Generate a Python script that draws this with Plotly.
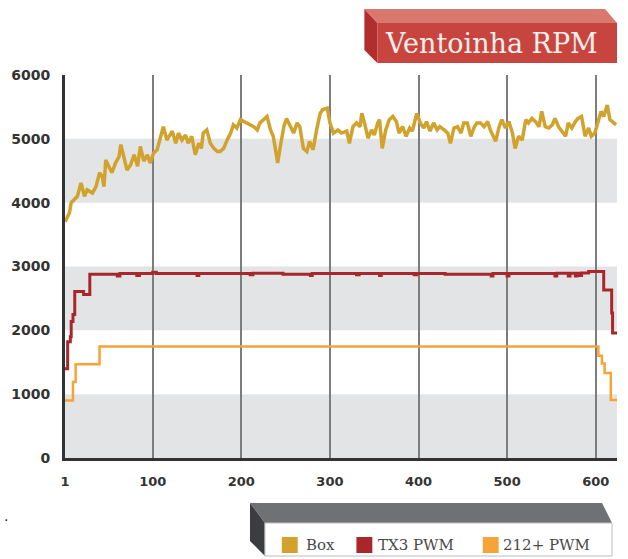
import plotly.graph_objects as go

# ---- data -------------------------------------------------------------
box_x = [1, 6, 8, 11, 15, 19, 23, 26, 32, 36, 40, 43, 45, 47, 51, 54, 58, 62, 64, 68,
         71, 75, 79, 83, 86, 90, 94, 97, 101, 105, 109, 112, 116, 122, 126, 129, 133, 137, 140, 144,
         148, 152, 155,
         157, 161, 165, 169, 173, 176, 180, 184, 188, 191, 195, 199, 203, 208, 214, 218, 221, 225, 229, 233,
         236, 238, 241, 244, 248, 251, 255, 259, 263, 266, 270, 274, 277, 281, 285, 289, 292, 297, 300, 304,
         309,
         313, 319, 322, 326, 330, 334, 336, 339, 343, 347, 350, 354, 356, 359, 363, 367, 371, 375, 378, 382,
         386, 390, 393, 398, 402, 406, 409, 413, 417, 421, 424, 429, 433, 436, 440, 444, 448, 451, 455, 459,
         463, 466,
         470, 474, 478, 481, 487, 491, 494, 498, 502, 506, 509, 513, 517, 521, 524, 528, 532, 536, 539, 543,
         547, 551, 554, 558, 562, 566, 569, 573, 577, 580, 584, 588, 592, 595, 599, 603, 606, 609, 613, 616,
         620, 623]
box_rpm = [3700, 3840, 4000, 4040, 4100, 4310, 4100, 4200, 4150, 4250, 4470, 4410, 4250, 4670, 4570, 4470, 4620, 4720, 4910, 4670,
           4510, 4590, 4750, 4570, 4880, 4650, 4750, 4620, 4780, 4830, 5040, 5190, 4980, 5120, 4930, 5090, 4980, 5060, 4930, 5040,
           4750, 4930, 4850,
           5090, 5140, 4930, 4850, 4800, 4800, 4850, 4980, 5090, 5220, 5170, 5300, 5270, 5220, 5190, 5140, 5250, 5300, 5350, 5140,
           5040, 4880, 4620, 4880, 5190, 5320, 5190, 5090, 5250, 5190, 4850, 4800, 4960, 4830, 5140, 5400, 5460, 5480, 5250, 5090,
           5140,
           5090, 5120, 4930, 5190, 5250, 5190, 5400, 5250, 5010, 5140, 5060, 5250, 5300, 4850, 5140, 5300, 5350, 5270, 5090, 5190,
           5040, 5170, 5120, 5400, 5250, 5170, 5270, 5120, 5250, 5140, 5190, 5140, 5090, 4930, 5170, 5190, 5090, 5250, 5250, 5040,
           5190, 5250,
           5250, 5190, 5270, 5140, 4960, 5190, 5300, 5170, 5270, 5090, 4850, 5040, 4980, 5300, 5250, 5320, 5270, 5190, 5430, 5190,
           5170, 5220, 5320, 5190, 5120, 5040, 5250, 5170, 5270, 5320, 5350, 5040, 5170, 5040, 5090, 5270, 5430, 5350, 5530, 5300,
           5250, 5220]

tx3_x = [1, 4, 7, 8, 10, 12, 22, 29, 60, 63, 82, 85, 100, 104, 150, 152, 210, 213, 247, 278,
         280, 330, 333, 356, 358, 395, 398, 430, 482, 484, 500, 502, 554, 556, 569, 571, 577, 579, 582, 584,
         592, 609, 618, 619, 624]
tx3_rpm = [1400, 1820, 1900, 2140, 2250, 2610, 2560, 2880, 2850, 2890, 2860, 2890, 2910, 2890, 2860, 2890, 2870, 2895, 2880, 2860,
           2890, 2870, 2890, 2860, 2890, 2870, 2890, 2880, 2850, 2890, 2850, 2890, 2850, 2895, 2850, 2895, 2850, 2895, 2860, 2900,
           2920, 2630, 2270, 1960, 1960]

pwm212_x = [1, 10, 13, 40, 603, 607, 610, 617, 624]
pwm212_rpm = [900, 1190, 1470, 1745, 1600, 1480, 1330, 910, 910]

x_ticks = [1, 100, 200, 300, 400, 500, 600]
y_ticks = [0, 1000, 2000, 3000, 4000, 5000, 6000]
band_ranges = [(0, 1000), (2000, 3000), (4000, 5000)]

series_names = ["Box", "TX3 PWM", "212+ PWM"]
series_colors = ["#d1a22c", "#a9272b", "#f6a337"]

# ---- page geometry ------------------------------------------------------
W, H = 628, 559
ML, MR, MT, MB = 62, 11, 75, 101
PW, PH = W - ML - MR, H - MT - MB


def fx(x):
    return (x - ML) / PW


def fy(y):
    return (H - MB - y) / PH


def poly(points):
    return "M " + " L ".join(f"{fx(x):.5f},{fy(y):.5f}" for x, y in points) + " Z"


fig = go.Figure()

fig.add_trace(go.Scatter(x=box_x, y=box_rpm, mode="lines", name=series_names[0],
                         line=dict(color=series_colors[0], width=3.5)))
fig.add_trace(go.Scatter(x=tx3_x, y=tx3_rpm, mode="lines", name=series_names[1],
                         line=dict(color=series_colors[1], width=3, shape="hv")))
fig.add_trace(go.Scatter(x=pwm212_x, y=pwm212_rpm, mode="lines", name=series_names[2],
                         line=dict(color=series_colors[2], width=2.5, shape="hv")))

shapes = []
# alternating grey bands
for lo, hi in band_ranges:
    shapes.append(dict(type="rect", xref="paper", yref="y", x0=0, x1=1, y0=lo, y1=hi,
                       fillcolor="#e3e4e6", line_width=0, layer="below"))

# title block (3D red slab)
shapes.append(dict(type="path", xref="paper", yref="paper",
                   path=poly([(363, 9), (605, 9), (617, 23), (376, 23)]),
                   fillcolor="#d8786e", line_width=0))
shapes.append(dict(type="path", xref="paper", yref="paper",
                   path=poly([(363, 9), (376, 23), (376, 63), (363, 50)]),
                   fillcolor="#b22d2d", line_width=0))
shapes.append(dict(type="path", xref="paper", yref="paper",
                   path=poly([(376, 23), (617, 23), (617, 63), (376, 63)]),
                   fillcolor="#c8453f", line_width=0))

# legend block (3D grey slab)
shapes.append(dict(type="path", xref="paper", yref="paper",
                   path=poly([(248, 503), (602, 503), (612, 523), (263, 523)]),
                   fillcolor="#707174", line_width=0))
shapes.append(dict(type="path", xref="paper", yref="paper",
                   path=poly([(248, 503), (263, 523), (263, 556), (248, 541)]),
                   fillcolor="#3c3d40", line_width=0))
shapes.append(dict(type="path", xref="paper", yref="paper",
                   path=poly([(263, 523), (612, 523), (612, 556), (263, 556)]),
                   fillcolor="#ffffff", line=dict(color="#bdbec0", width=1)))

legend_items = [(280, 302), (355, 375), (482, 500)]
annotations = []
for (sq_x, tx), name, color in zip(legend_items, series_names, series_colors):
    shapes.append(dict(type="rect", xref="paper", yref="paper",
                       x0=fx(sq_x), x1=fx(sq_x + 16), y0=fy(553), y1=fy(537),
                       fillcolor=color, line_width=0))
    annotations.append(dict(x=fx(tx), y=fy(545), xref="paper", yref="paper", text=name,
                            showarrow=False, xanchor="left", yanchor="middle",
                            font=dict(family="DejaVu Serif", size=15, color="#4a4a4a")))

annotations.append(dict(x=fx(491), y=fy(43), xref="paper", yref="paper", text="Ventoinha RPM",
                        showarrow=False, xanchor="center", yanchor="middle",
                        font=dict(family="DejaVu Serif", size=27, color="#fbefec")))
annotations.append(dict(x=fx(3), y=fy(516), xref="paper", yref="paper", text=".",
                        showarrow=False, xanchor="center", yanchor="middle",
                        font=dict(family="DejaVu Sans", size=14, color="#222")))

tick_font = dict(family="DejaVu Sans", size=13, color="#333333", weight="bold")

fig.update_layout(
    width=W, height=H,
    margin=dict(l=ML, r=MR, t=MT, b=MB),
    paper_bgcolor="white", plot_bgcolor="white",
    showlegend=False,
    shapes=shapes, annotations=annotations,
    xaxis=dict(range=[1, 624], tickvals=x_ticks, ticktext=[str(v) for v in x_ticks],
               showgrid=True, gridcolor="#7d7d7d", gridwidth=1.5,
               showline=True, linecolor="#333333", linewidth=3,
               zeroline=False, ticks="", ticklabelstandoff=9, tickfont=tick_font),
    yaxis=dict(range=[0, 6000], tickvals=y_ticks, ticktext=[str(v) for v in y_ticks],
               showgrid=False, showline=True, linecolor="#333333", linewidth=3,
               zeroline=False, ticks="", ticklabelstandoff=9,
               tickfont=dict(family="DejaVu Sans", size=14, color="#333333", weight="bold")),
)

fig.write_html("out.html", config={"displayModeBar": False})
